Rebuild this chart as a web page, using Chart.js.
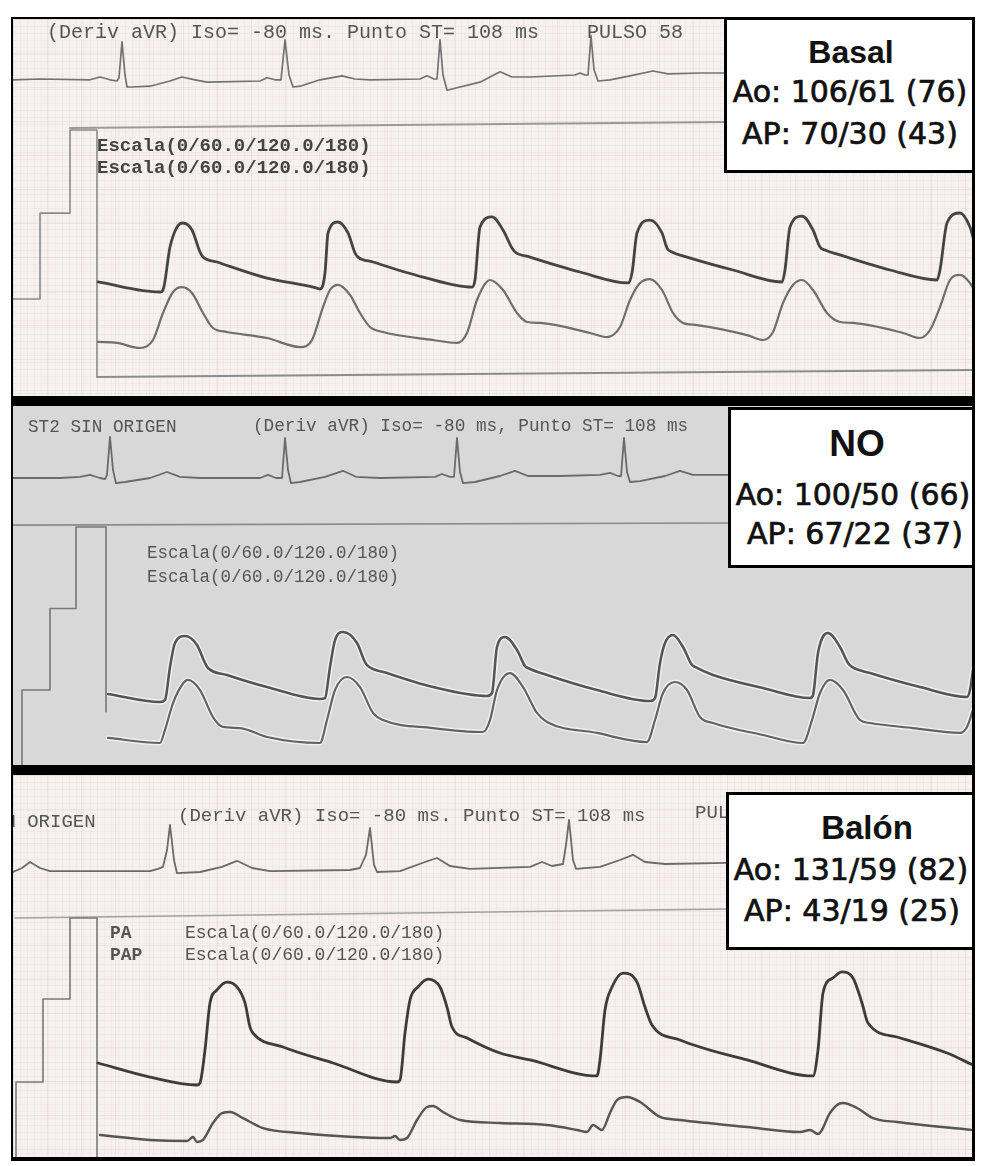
<!DOCTYPE html>
<html lang="es">
<head>
<meta charset="utf-8">
<title>Basal / NO / Balón</title>
<script src="https://cdn.jsdelivr.net/npm/chart.js@4.4.1/dist/chart.umd.min.js"></script>
<style>
  html, body { margin: 0; padding: 0; background: #fff; }
  body { width: 983px; height: 1166px; position: relative; overflow: hidden; }
  #marco { position: absolute; left: 11px; top: 17px; width: 964px; height: 1144px; background: #000; }
  .panel { position: absolute; left: 13px; width: 959px; overflow: hidden; }
  .panel canvas { position: absolute; left: 0; top: 0; }
  .papel {
    background-color: #f6f0ef;
    background-image:
      linear-gradient(to right, rgba(175,150,150,.13) 1px, transparent 1px),
      linear-gradient(to bottom, rgba(175,150,150,.13) 1px, transparent 1px),
      linear-gradient(to right, rgba(175,150,150,.07) 1px, transparent 1px),
      linear-gradient(to bottom, rgba(175,150,150,.07) 1px, transparent 1px);
    background-size: 34px 34px, 34px 34px, 7px 7px, 7px 7px;
  }
  #p1 { top: 19px; height: 377px; }
  #p2 { top: 406px; height: 359px; background: #d8d8d8; }
  #p3 { top: 775px; height: 382px; }
  .txt { position: absolute; font-family: "Liberation Mono", "Courier New", monospace; white-space: pre; line-height: 1; color: #555; z-index: 2; }
  .caja { position: absolute; box-sizing: border-box; border: 3px solid #000; background: #fff; z-index: 5; }
  .lin { position: absolute; white-space: nowrap; line-height: 1; color: #111; transform: translateX(-50%); }
  .tit { font-family: "Liberation Sans", Arial, sans-serif; font-weight: bold; }
  .val { font-family: "DejaVu Sans", sans-serif; font-size: 30px; -webkit-text-stroke: 0.7px #111; }
</style>
</head>
<body>
<div id="marco"></div>

<div class="panel papel" id="p1">
  <canvas id="c1" width="959" height="377"></canvas>
  <div class="txt" style="left:34px;top:4px;font-size:20px;">(Deriv aVR) Iso= -80 ms. Punto ST= 108 ms</div>
  <div class="txt" style="left:574px;top:4px;font-size:20px;">PULSO 58</div>
  <div class="txt" style="left:84px;top:118px;font-size:19px;font-weight:bold;color:#444;">Escala(0/60.0/120.0/180)</div>
  <div class="txt" style="left:84px;top:140px;font-size:19px;font-weight:bold;color:#444;">Escala(0/60.0/120.0/180)</div>
</div>

<div class="panel" id="p2">
  <canvas id="c2" width="959" height="359"></canvas>
  <div class="txt" style="left:15px;top:13px;font-size:17.7px;">ST2 SIN ORIGEN</div>
  <div class="txt" style="left:240px;top:12px;font-size:17.7px;">(Deriv aVR) Iso= -80 ms, Punto ST= 108 ms</div>
  <div class="txt" style="left:134px;top:139px;font-size:17.5px;">Escala(0/60.0/120.0/180)</div>
  <div class="txt" style="left:134px;top:163px;font-size:17.5px;">Escala(0/60.0/120.0/180)</div>
</div>

<div class="panel papel" id="p3">
  <canvas id="c3" width="959" height="382"></canvas>
  <div class="txt" style="left:-77px;top:38px;font-size:19px;">ST2 SIN ORIGEN</div>
  <div class="txt" style="left:165px;top:32px;font-size:19px;">(Deriv aVR) Iso= -80 ms. Punto ST= 108 ms</div>
  <div class="txt" style="left:682px;top:29px;font-size:19px;">PULSO 58</div>
  <div class="txt" style="left:97px;top:149px;font-size:18px;font-weight:bold;">PA</div>
  <div class="txt" style="left:97px;top:171px;font-size:18px;font-weight:bold;">PAP</div>
  <div class="txt" style="left:172px;top:149px;font-size:18px;">Escala(0/60.0/120.0/180)</div>
  <div class="txt" style="left:172px;top:171px;font-size:18px;">Escala(0/60.0/120.0/180)</div>
</div>

<div class="caja" style="left:724px;top:17px;width:251px;height:156px;"></div>
<div class="caja" style="left:728px;top:407px;width:247px;height:161px;"></div>
<div class="caja" style="left:726px;top:792px;width:249px;height:158px;"></div>

<div style="position:absolute;left:0;top:0;z-index:6;">
  <div class="lin tit" style="left:851px;top:36px;font-size:32px;">Basal</div>
  <div class="lin val" style="left:850px;top:77px;">Ao: 106/61 (76)</div>
  <div class="lin val" style="left:850px;top:119px;">AP: 70/30 (43)</div>

  <div class="lin tit" style="left:857px;top:425px;font-size:37px;">NO</div>
  <div class="lin val" style="left:853px;top:480px;">Ao: 100/50 (66)</div>
  <div class="lin val" style="left:855px;top:519px;">AP: 67/22 (37)</div>

  <div class="lin tit" style="left:867px;top:811px;font-size:33px;">Balón</div>
  <div class="lin val" style="left:851px;top:855px;">Ao: 131/59 (82)</div>
  <div class="lin val" style="left:852px;top:896px;">AP: 43/19 (25)</div>
</div>

<script>
// tiempo en muestras (~150 Hz), ECG en mV, presiones en mmHg

// ---- Basal ----
const basalEcg = [[1,0.03],[28,0.05],[78,0.03],[88,0.10],[98,0.03],[105,0],[107,0.08],[110,0.98],[113,0.15],[115,-0.15],[120,-0.15],[138,-0.13],[158,0],[170,0.10],[183,0.03],[195,-0.03],[248,0],[255,0.08],[263,0.03],[269,0.03],[273,1.03],[277,0.15],[281,-0.15],[288,-0.13],[308,0.03],[330,0.13],[343,0.05],[358,0.03],[408,0.05],[415,0.13],[422,0.05],[425,0.05],[428,1.03],[431,0.15],[435,-0.23],[443,-0.18],[468,-0.03],[488,0.23],[500,0.10],[518,0.10],[563,0.15],[568,0.20],[573,0.15],[576,0.15],[579,1.13],[582,0.28],[586,0],[598,0.03],[618,0.13],[641,0.25],[656,0.18],[688,0.20],[713,0.20]];
const basalAo = [[86,72.1],[148,65.0],[151,66.4],[158,96.9],[165,111.1],[171,114.0],[180,109.0],[188,93.4],[191,89.8],[205,86.3],[255,74.9],[305,67.8],[308,67.1],[313,78.5],[316,106.9],[326,114.7],[336,106.9],[343,92.7],[346,89.8],[361,86.3],[411,75.6],[460,68.5],[463,73.5],[468,111.1],[480,118.3],[491,109.0],[500,96.2],[503,93.4],[518,89.8],[568,79.2],[616,71.4],[620,78.5],[625,106.9],[638,116.1],[650,106.9],[655,96.2],[660,93.4],[675,89.8],[721,80.6],[770,72.1],[773,80.6],[778,111.1],[790,118.9],[801,109.0],[808,96.9],[813,94.8],[828,91.3],[878,80.6],[925,73.5],[928,80.6],[935,114.0],[948,121.1],[958,111.1],[961,104.0]];
const basalAp = [[86,29.5],[105,28.8],[128,25.2],[141,30.9],[151,50.1],[161,65.0],[170,68.5],[180,64.3],[191,50.1],[201,39.4],[215,36.6],[255,32.3],[288,25.9],[300,30.9],[311,54.3],[318,66.4],[326,70.0],[338,62.9],[348,50.1],[358,40.1],[371,36.6],[421,30.9],[445,28.8],[455,35.9],[465,59.3],[478,73.5],[491,66.4],[505,50.1],[515,43.7],[528,43.0],[578,35.9],[595,33.0],[608,40.1],[618,59.3],[628,71.4],[638,74.2],[650,66.4],[661,50.1],[671,43.0],[685,41.5],[735,34.4],[751,30.9],[761,36.6],[771,57.2],[781,70.0],[790,73.5],[801,66.4],[815,50.1],[828,43.7],[841,43.0],[891,35.9],[908,32.3],[918,38.0],[928,54.3],[938,73.5],[948,77.1],[958,71.4],[961,67.8]];
const basalEscala = [[1,60],[28,60],[28,121],[58,121],[58,180],[85,180],[85,4.6]];
const basalSeparador = [[58,181.5],[713,185.7]];
const basalCero = [[85,4.6],[961,9.6]];

// ---- NO ----
const noEcg = [[1,0],[48,0],[68,0.03],[78,0.08],[88,0],[93,-0.03],[95,0.08],[98,1.03],[101,0.2],[104,-0.13],[113,-0.1],[138,0],[155,0.15],[168,0.03],[188,0],[248,0],[256,0.08],[264,0],[270,0],[273,1.0],[276,0.2],[279,-0.13],[288,-0.1],[313,0.03],[331,0.18],[344,0.03],[368,0],[423,0.03],[430,0.1],[438,0.03],[442,0.03],[445,1.0],[448,0.15],[451,-0.13],[463,-0.1],[488,0.05],[503,0.18],[516,0.05],[548,0.05],[588,0.08],[598,0.13],[606,0.05],[609,0.05],[612,1.0],[615,0.15],[618,-0.1],[628,-0.08],[653,0.05],[668,0.18],[681,0.08],[717,0.08]];
const noAo = [[96,57.1],[148,51.2],[153,52.7],[158,77.0],[163,94.6],[173,99.8],[185,93.2],[193,79.9],[196,76.2],[215,71.1],[255,62.2],[308,53.4],[313,54.1],[318,77.0],[323,96.8],[331,102.7],[345,94.6],[353,80.6],[356,77.7],[375,72.5],[421,62.2],[475,55.6],[480,57.8],[485,91.7],[493,99.0],[505,89.5],[513,77.7],[516,76.2],[535,71.1],[585,60.0],[638,51.9],[643,54.1],[648,79.9],[653,94.6],[661,100.5],[671,91.7],[680,78.4],[683,77.0],[701,71.1],[751,61.5],[798,54.1],[801,56.3],[806,87.3],[816,102.0],[828,91.7],[836,79.9],[840,77.0],[858,72.5],[908,62.2],[955,54.9],[958,60.0],[961,74.7]];
const noAp = [[96,24.7],[148,21.0],[153,30.6],[161,50.4],[170,63.7],[176,67.4],[188,60.0],[201,40.1],[211,32.8],[228,32.0],[255,25.4],[308,21.0],[315,37.9],[323,60.0],[335,69.6],[348,62.2],[361,43.1],[371,37.9],[421,32.0],[471,29.1],[478,37.9],[485,60.0],[498,72.5],[511,62.2],[525,43.1],[535,36.5],[585,28.4],[635,21.7],[643,37.9],[651,57.8],[663,65.9],[675,60.0],[688,40.1],[701,35.7],[751,26.9],[791,21.0],[800,37.9],[808,57.8],[818,67.4],[831,60.0],[848,37.9],[858,35.7],[901,32.0],[948,28.4],[955,32.8],[961,45.3]];
const noEscala = [[10,4.8],[10,60],[38,60],[38,120],[64,120],[64,180],[94,180],[94,44]];
const noSeparador = [[1,181.4],[717,183.0]];

// ---- Balón ----
const balonEcg = [[1,-0.05],[10,0.05],[18,0.2],[28,0.05],[38,-0.03],[138,-0.03],[146,0.03],[151,0.08],[155,0.5],[158,1.13],[162,0.25],[165,-0.08],[188,-0.05],[210,0.08],[225,0.23],[240,0.05],[258,-0.03],[338,0],[348,0.05],[354,0.38],[358,1.05],[362,0.13],[365,-0.05],[388,-0.03],[413,0.2],[425,0.3],[438,0.1],[458,0.03],[518,0.08],[530,0.2],[540,0.1],[551,0.15],[554,0.63],[557,1.25],[561,0.25],[564,0.03],[588,0.08],[608,0.25],[621,0.38],[633,0.2],[653,0.15],[715,0.18]];
const balonAo = [[86,73.9],[138,63.6],[185,57.8],[188,59.3],[193,83.4],[198,117.8],[205,127.3],[215,133.1],[225,129.5],[233,117.8],[238,100.2],[241,95.8],[271,85.6],[321,73.9],[385,60.0],[388,61.4],[393,95.8],[398,120.0],[406,129.5],[416,135.3],[428,129.5],[435,114.8],[440,100.2],[455,92.2],[488,81.2],[518,76.1],[585,64.4],[588,76.1],[593,112.7],[600,129.5],[611,139.7],[625,133.1],[633,114.8],[640,101.7],[668,90.7],[735,76.1],[801,64.4],[806,83.4],[811,125.1],[821,136.1],[830,140.5],[841,136.1],[850,117.8],[856,103.1],[885,92.9],[935,81.2],[961,72.4]];
const balonAp = [[88,21.2],[138,17.6],[175,16.8],[181,19.8],[185,16.1],[191,17.6],[201,30.0],[210,37.3],[218,38.0],[231,33.6],[251,26.3],[288,22.7],[378,19.0],[383,20.5],[388,17.6],[395,19.0],[405,32.2],[415,41.7],[421,42.4],[431,38.0],[448,32.2],[488,30.0],[535,28.5],[565,24.9],[575,23.4],[581,28.5],[590,24.9],[598,37.3],[605,46.8],[615,49.0],[628,45.4],[648,34.4],[668,32.2],[735,27.1],[788,23.4],[798,24.9],[806,21.9],[818,37.3],[825,43.2],[831,44.6],[845,41.0],[861,33.6],[885,30.7],[961,24.9]];
const balonEscala = [[4,5.1],[4,60],[31,60],[31,120.7],[58,120.7],[58,180],[85,180],[85,5.1]];
const balonSeparador = [[3,180],[715,186.5]];

// geometría de cada panel (px del lienzo): cero de presión, px por mmHg, línea base del ECG
const PX_POR_MV = 40;
const T_MIN = 1, T_MAX = 960;

function xy(arr) {
  return arr.map(([x, y]) => ({ x, y }));
}

function serie(data, eje, color, ancho, suave) {
  return {
    data: xy(data),
    yAxisID: eje,
    borderColor: color,
    borderWidth: ancho,
    pointRadius: 0,
    fill: false,
    tension: 0,
    cubicInterpolationMode: suave ? "monotone" : "default",
    borderJoinStyle: "round",
    borderCapStyle: "round",
  };
}

function crearPanel(id, geo, datasets) {
  const alto = geo.alto;
  return new Chart(document.getElementById(id), {
    type: "line",
    data: { datasets },
    options: {
      responsive: false,
      animation: false,
      events: [],
      layout: { padding: 0 },
      plugins: { legend: { display: false }, tooltip: { enabled: false } },
      scales: {
        x: { type: "linear", display: false, min: T_MIN, max: T_MAX, bounds: "data" },
        yP: {
          type: "linear", display: false, bounds: "data",
          max: geo.ceroP / geo.pxP,
          min: (geo.ceroP - alto) / geo.pxP,
        },
        yE: {
          type: "linear", display: false, bounds: "data",
          max: geo.baseE / PX_POR_MV,
          min: (geo.baseE - alto) / PX_POR_MV,
        },
      },
    },
  });
}

crearPanel("c1", { alto: 377, ceroP: 364.5, pxP: 1.408, baseE: 62 }, [
  serie(basalEcg, "yE", "#727272", 1.7, false),
  serie(basalAo, "yP", "#444444", 2.8, true),
  serie(basalAp, "yP", "#6e6e6e", 2.2, true),
  serie(basalEscala, "yP", "#8a8a8a", 1.6, false),
  serie(basalSeparador, "yP", "#9a9a9a", 2, false),
  serie(basalCero, "yP", "#8c8c8c", 2, false),
]);

// en el panel NO el trazo tiene un halo claro alrededor
crearPanel("c2", { alto: 359, ceroP: 365.5, pxP: 1.358, baseE: 72 }, [
  serie(noEcg, "yE", "#6a6a6a", 1.8, false),
  serie(noAo, "yP", "#555555", 2.6, true),
  serie(noAp, "yP", "#626262", 2.2, true),
  serie(noEscala, "yP", "#777777", 1.6, false),
  serie(noSeparador, "yP", "#8a8a8a", 1.6, false),
  serie(noAo, "yP", "rgba(245,245,245,0.85)", 5.5, true),
  serie(noAp, "yP", "rgba(245,245,245,0.85)", 5, true),
]);

crearPanel("c3", { alto: 382, ceroP: 389, pxP: 1.367, baseE: 95 }, [
  serie(balonEcg, "yE", "#6a6a6a", 1.8, false),
  serie(balonAo, "yP", "#3c3c3c", 2.8, true),
  serie(balonAp, "yP", "#555555", 2.4, true),
  serie(balonEscala, "yP", "#7a7a7a", 1.6, false),
  serie(balonSeparador, "yP", "#a0a0a0", 1.6, false),
]);
</script>
</body>
</html>
